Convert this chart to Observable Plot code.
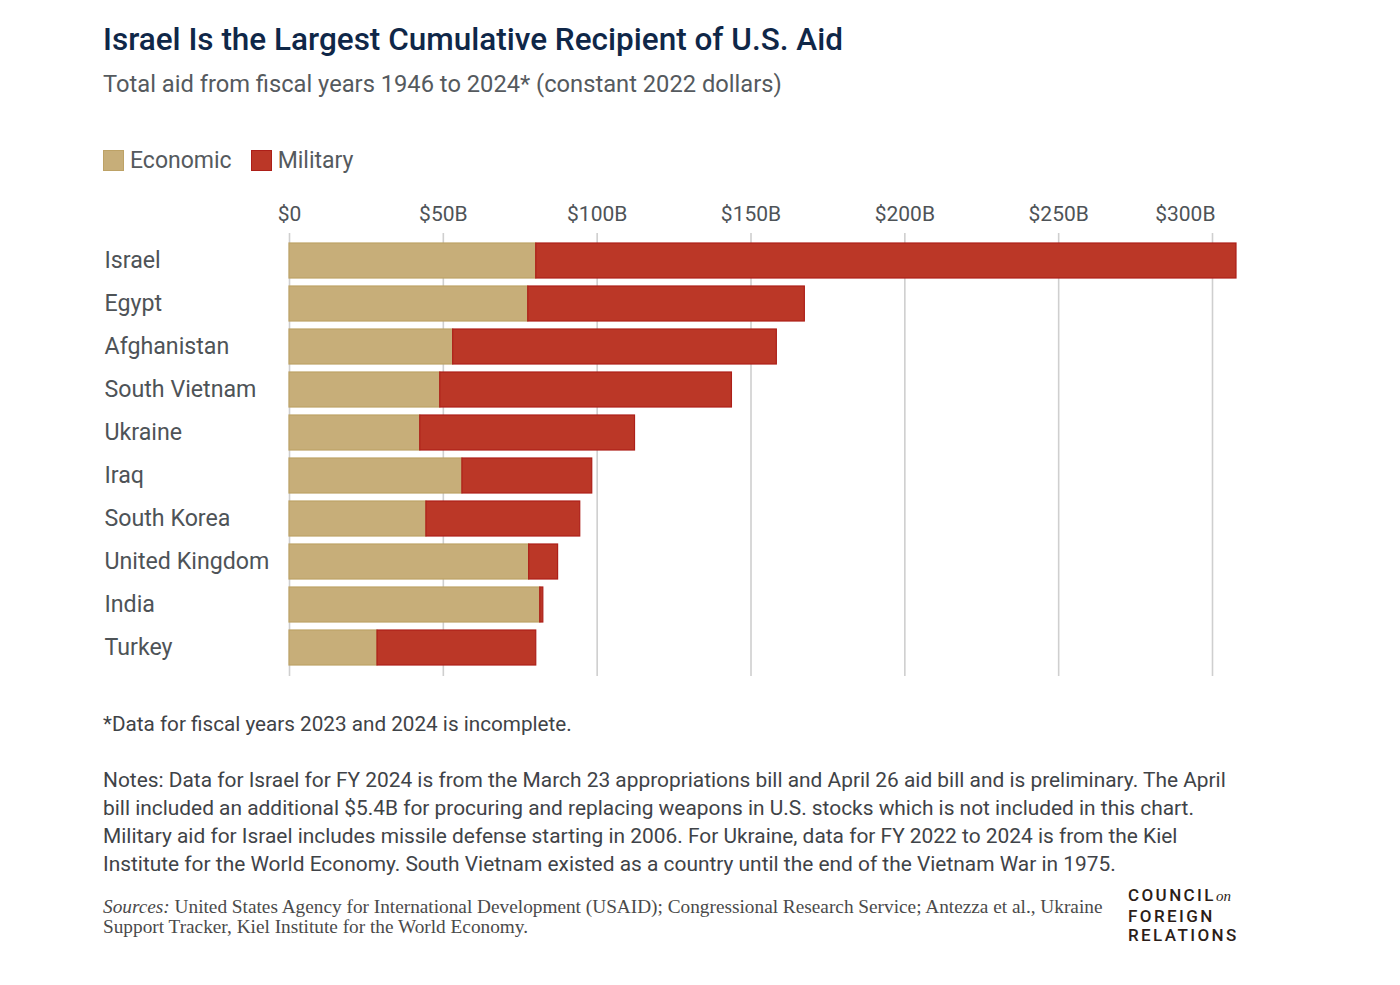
<!DOCTYPE html>
<html>
<head>
<meta charset="utf-8">
<script src="https://cdn.jsdelivr.net/npm/d3@7"></script>
<script src="https://cdn.jsdelivr.net/npm/@observablehq/plot@0.6"></script>
<style>
  body { margin: 0; background: #fff; width: 1400px; height: 985px; position: relative; font-family: Roboto, "Noto Sans", sans-serif; overflow: hidden; }
  .abs { position: absolute; white-space: nowrap; }
  #title { left: 103px; top: 20px; font-size: 31.5px; line-height: 40px; font-weight: 500; color: #0f2748; }
  #subtitle { left: 103px; top: 70px; font-size: 23.7px; line-height: 28px; color: #555a5e; }
  #legend { left: 103px; top: 147px; display: flex; align-items: center; font-size: 23px; color: #555a5e; }
  .sw { width: 21px; height: 21px; display: inline-block; margin-right: 6px; box-sizing: border-box; }
  #chart { left: 0; top: 180px; }
  #foot { left: 103px; top: 710px; font-size: 20.7px; line-height: 28px; color: #3f4347; }
  #notes { left: 103px; top: 766px; font-size: 20.9px; line-height: 28px; color: #3f4347; }
  #sources { left: 103px; top: 897px; font-family: "Liberation Serif", "DejaVu Serif", serif; font-size: 19.3px; line-height: 20px; color: #4a4a4a; }
  #logo { left: 1128px; top: 886px; font-family: Roboto, sans-serif; font-size: 17px; line-height: 19.5px; letter-spacing: 2.4px; color: #2b1d18; font-weight: 500; }
  #logo i { font-family: "Liberation Serif", serif; font-size: 15px; letter-spacing: 0; font-weight: 400; }
</style>
</head>
<body>
<div id="title" class="abs">Israel Is the Largest Cumulative Recipient of U.S. Aid</div>
<div id="subtitle" class="abs">Total aid from fiscal years 1946 to 2024* (constant 2022 dollars)</div>
<div id="legend" class="abs"></div>
<div id="chart" class="abs"></div>
<div id="foot" class="abs">*Data for fiscal years 2023 and 2024 is incomplete.</div>
<div id="notes" class="abs">Notes: Data for Israel for FY 2024 is from the March 23 appropriations bill and April 26 aid bill and is preliminary. The April<br>bill included an additional $5.4B for procuring and replacing weapons in U.S. stocks which is not included in this chart.<br>Military aid for Israel includes missile defense starting in 2006. For Ukraine, data for FY 2022 to 2024 is from the Kiel<br>Institute for the World Economy. South Vietnam existed as a country until the end of the Vietnam War in 1975.</div>
<div id="sources" class="abs"><i>Sources:</i> United States Agency for International Development (USAID); Congressional Research Service; Antezza et al., Ukraine<br>Support Tracker, Kiel Institute for the World Economy.</div>
<div id="logo" class="abs">COUNCIL<i>on</i><br>FOREIGN<br>RELATIONS</div>
<script>
// Data (billions, constant 2022 dollars)
const countries = ["Israel", "Egypt", "Afghanistan", "South Vietnam", "Ukraine", "Iraq", "South Korea", "United Kingdom", "India", "Turkey"];
const economic = [80.2, 77.6, 53.2, 49.0, 42.5, 56.2, 44.5, 77.9, 81.5, 28.6];
const military = [227.6, 89.9, 105.2, 94.8, 69.8, 42.2, 50.0, 9.4, 1.0, 51.6];
const aidTypes = ["Economic", "Military"];
const typeColors = ["#c7ae79", "#bb3727"];
const typeStrokes = ["#bda266", "#ad1f18"];
const xTicks = [0, 50, 100, 150, 200, 250];
const xLastTick = [300];

const rows = [];
countries.forEach((c, i) => {
  rows.push({country: c, type: aidTypes[0], value: economic[i]});
  rows.push({country: c, type: aidTypes[1], value: military[i]});
});

// Legend
const legend = document.getElementById("legend");
aidTypes.forEach((t, i) => {
  const item = document.createElement("span");
  item.style.display = "inline-flex";
  item.style.alignItems = "center";
  item.style.marginRight = "19px";
  const sw = document.createElement("span");
  sw.className = "sw";
  sw.style.background = typeColors[i];
  sw.style.border = "1px solid " + typeStrokes[i];
  item.appendChild(sw);
  item.appendChild(document.createTextNode(t));
  legend.appendChild(item);
});

const fmt = d => d === 0 ? "$0" : `$${d}B`;

const chart = Plot.plot({
  width: 1400,
  height: 512,
  marginLeft: 289,
  marginRight: 188,
  marginTop: 53,
  marginBottom: 16,
  style: {fontFamily: "Roboto, sans-serif", background: "transparent"},
  x: {domain: [0, 300]},
  y: {domain: countries, padding: 0.18, align: 0.5},
  color: {domain: aidTypes, range: typeColors},
  marks: [
    Plot.gridX(xTicks.concat(xLastTick), {stroke: "#cfcfcf", strokeOpacity: 1, strokeWidth: 1.6}),
    Plot.axisX(xTicks, {anchor: "top", tickSize: 0, tickPadding: 13, tickFormat: fmt, fontSize: 21, fill: "#4e5357", label: null}),
    Plot.axisX(xLastTick, {anchor: "top", tickSize: 0, tickPadding: 13, tickFormat: fmt, fontSize: 21, fill: "#4e5357", label: null, textAnchor: "end", dx: 3}),
    Plot.axisY({anchor: "left", tickSize: 0, tickPadding: 185, textAnchor: "start", fontSize: 23.2, fill: "#4e5357", label: null}),
    Plot.barX(rows, {
      y: "country",
      x: "value",
      fill: "type",
      stroke: d => typeStrokes[aidTypes.indexOf(d.type)],
      strokeWidth: 1.2
    })
  ]
});
document.getElementById("chart").appendChild(chart);
</script>
</body>
</html>
